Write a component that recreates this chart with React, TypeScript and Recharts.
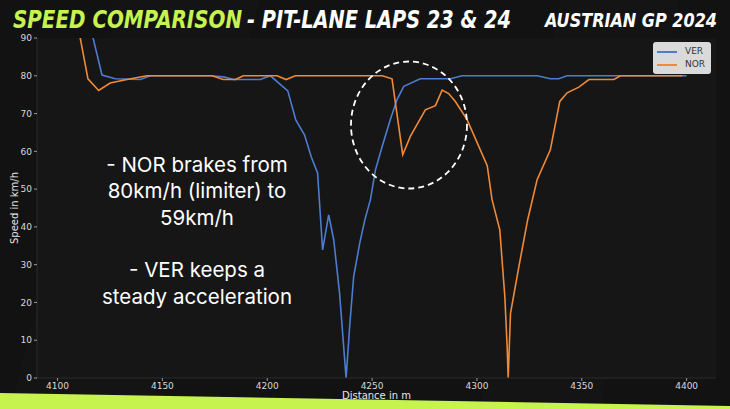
import React from "react";
import { LineChart, Line, XAxis, YAxis, CartesianGrid, Legend } from "recharts";

// VER – distance (m) and speed (km/h)
const verDist = [
  4110, 4121.2, 4127.5, 4139.5, 4144.2, 4172.9, 4179.2, 4184, 4196.7, 4201.5, 4209.8, 4213.6, 4217.8, 4221,
  4224, 4226.4, 4229.3, 4231.7, 4234.5, 4237.6, 4239.3, 4241.2, 4244.1, 4246.6, 4249.2, 4251.6, 4254.8,
  4258.7, 4261.9, 4265.1, 4273, 4287.4, 4292.9, 4328.7, 4335, 4339, 4343, 4400,
];
const verSpeed = [
  106, 80.2, 79.2, 79, 80, 80, 79.7, 79, 79, 80, 76, 68.3, 64.3, 58.5, 54.3, 33.9, 43.2, 36.6, 22.4, 0, 13.6,
  26.8, 35.7, 42, 47.2, 55.1, 61.3, 68.4, 73.7, 77.2, 79.2, 79.2, 80, 80, 79.2, 79.2, 80, 80,
];

// NOR
const norDist = [
  4105, 4114.5, 4119.6, 4125.1, 4133.1, 4142.6, 4173.7, 4179, 4184.8, 4188.6, 4204.7, 4209, 4213.4, 4254.8,
  4259.5, 4264.6, 4268.3, 4275.4, 4280.2, 4283.4, 4286.5, 4289.7, 4295.3, 4304.9, 4307.2, 4310.9, 4313.3,
  4314.4, 4314.9, 4316, 4320, 4324.2, 4328.7, 4335, 4339.5, 4343, 4348.6, 4353.4, 4365.3, 4368.5, 4398,
];
const norSpeed = [
  107, 79.2, 76.1, 78.1, 79, 80, 80, 79, 79, 80, 80, 79, 80, 80, 79.2, 59.1, 64, 71, 72.1, 76.2, 75.3, 73.2,
  68.4, 56.2, 47.2, 39.2, 21.5, 8.3, 0, 17.1, 29.5, 41.9, 52.5, 60.4, 73.2, 75.5, 77, 79, 79, 80, 80,
];

const seriesNames = ["VER", "NOR"];
const xTicks = [4100, 4150, 4200, 4250, 4300, 4350, 4400];
const yTicks = [0, 10, 20, 30, 40, 50, 60, 70, 80, 90];

const noteLines = ["- NOR brakes from", "80km/h (limiter) to", "59km/h", "", "- VER keeps a", "steady acceleration"];

const VER_COLOR = "#4d7cd0";
const NOR_COLOR = "#f08a38";

const verData = verDist.map((d, i) => ({ d, v: verSpeed[i] }));
const norData = norDist.map((d, i) => ({ d, v: norSpeed[i] }));

const tickStyle = { fontSize: 9, fill: "#d8d8d8", fontFamily: "DejaVu Sans" };

function LegendBox({ payload }: any) {
  // keep plotting order (VER first), not alphabetical
  const items = seriesNames
    .map((n) => (payload || []).find((p: any) => p.value === n))
    .filter(Boolean);
  return (
    <div
      style={{
        background: "rgba(235,235,235,0.92)",
        borderRadius: 3,
        padding: "3px 6px 3px 4px",
        fontFamily: "DejaVu Sans",
        fontSize: 9,
        color: "#333",
        lineHeight: "13px",
      }}
    >
      {items.map((p: any) => (
        <div key={p.value} style={{ display: "flex", alignItems: "center" }}>
          <span style={{ display: "inline-block", width: 20, height: 2, background: p.color, marginRight: 8 }} />
          {p.value}
        </div>
      ))}
    </div>
  );
}

export default function App() {
  return (
    <div
      style={{
        position: "absolute",
        left: 0,
        top: 0,
        width: 730,
        height: 409,
        background: "#121212",
        overflow: "hidden",
      }}
    >
      <svg width={730} height={409} style={{ position: "absolute", left: 0, top: 0 }}>
        <polygon points="120,0 260,0 150,409 10,409" fill="#ffffff" opacity={0.012} />
        <polygon points="560,0 680,0 600,409 480,409" fill="#ffffff" opacity={0.012} />
        <polygon points="0,393 730,406 730,409 0,409" fill="#c6f34e" />
      </svg>

      <div style={{ position: "absolute", left: 0, top: 0 }}>
        <LineChart width={730} height={409} margin={{ top: 38, right: 14, bottom: 0, left: 0 }}>
          <CartesianGrid horizontal={false} vertical={false} fill="#161616" stroke="none" />
          <XAxis
            type="number"
            dataKey="d"
            domain={[4090.2, 4414]}
            ticks={xTicks}
            allowDataOverflow
            height={31}
            tick={tickStyle}
            tickSize={3}
            tickLine={{ stroke: "#999" }}
            axisLine={{ stroke: "#2a2a2a" }}
            label={{
              value: "Distance in m",
              position: "insideBottom",
              offset: 10,
              style: { fontSize: 10, fill: "#e6e6e6", fontFamily: "DejaVu Sans" },
            }}
          />
          <YAxis
            type="number"
            domain={[0, 90]}
            ticks={yTicks}
            allowDataOverflow
            width={37}
            tick={tickStyle}
            tickSize={3}
            tickLine={{ stroke: "#999" }}
            axisLine={{ stroke: "#2a2a2a" }}
            label={{
              value: "Speed in km/h",
              angle: -90,
              position: "insideLeft",
              offset: 14,
              style: { fontSize: 10, fill: "#e6e6e6", fontFamily: "DejaVu Sans", textAnchor: "middle" },
            }}
          />
          <Legend
            layout="vertical"
            align="center"
            verticalAlign="middle"
            content={<LegendBox />}
            wrapperStyle={{ left: 653, top: 42, width: 58 }}
          />
          <Line
            data={verData}
            dataKey="v"
            name="VER"
            stroke={VER_COLOR}
            strokeWidth={1.6}
            dot={false}
            isAnimationActive={false}
          />
          <Line
            data={norData}
            dataKey="v"
            name="NOR"
            stroke={NOR_COLOR}
            strokeWidth={1.6}
            dot={false}
            isAnimationActive={false}
          />
        </LineChart>
      </div>

      <svg width={730} height={409} style={{ position: "absolute", left: 0, top: 0, pointerEvents: "none" }}>
        <g fontFamily="'Liberation Sans Narrow', 'DejaVu Sans Condensed', sans-serif" fontWeight="bold" fontStyle="italic">
          <text x={13} y={28} fontSize={24} fill="#c6f34e" textLength={229} lengthAdjust="spacingAndGlyphs">
            SPEED COMPARISON
          </text>
          <text x={247} y={28} fontSize={24} fill="#ffffff" textLength={264} lengthAdjust="spacingAndGlyphs">
            - PIT-LANE LAPS 23 &amp; 24
          </text>
          <text x={545} y={27} fontSize={19} fill="#ffffff" textLength={172} lengthAdjust="spacingAndGlyphs">
            AUSTRIAN GP 2024
          </text>
        </g>
        <g fontFamily="Inter, 'Noto Sans', sans-serif" fontSize={20.5} fill="#ffffff" textAnchor="middle">
          {noteLines.map((t, i) => (
            <text key={i} x={197} y={172 + i * 26.3}>
              {t}
            </text>
          ))}
        </g>
        <ellipse
          cx={409}
          cy={125}
          rx={58}
          ry={63.5}
          fill="none"
          stroke="#ffffff"
          strokeWidth={1.8}
          strokeDasharray="6 4"
        />
      </svg>
    </div>
  );
}
